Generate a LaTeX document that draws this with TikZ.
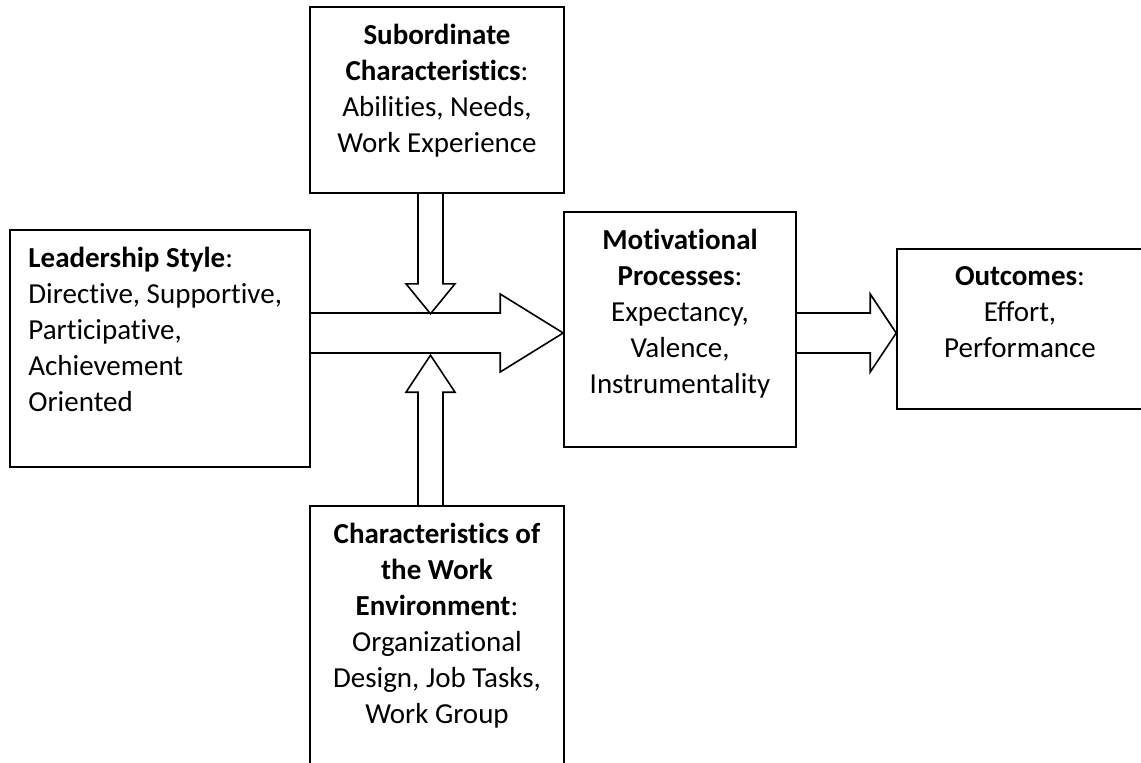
\documentclass[tikz,border=0pt]{standalone}
\usepackage{fontspec}
\setmainfont{Carlito}[Ligatures={NoCommon}]
\usepackage{tikz}
\usetikzlibrary{positioning}
\usetikzlibrary{calc}

\begin{document}
\begin{tikzpicture}[x=1pt, y=-1pt,
            boxnode/.style={rectangle, draw=black, line width=1.6pt, inner sep=0pt},
            txtnode/.style={font=\fontsize{29}{36}\selectfont, inner sep=0pt, align=center},
            blockarr/.style={draw=black, line width=1.6pt, line join=miter}
        ]
        \useasboundingbox (0,0) rectangle (1141,763);
        \node[boxnode, minimum width=254pt, minimum height=186pt] (sub) at (437,100) {};
        \node[boxnode, minimum width=300pt, minimum height=237pt] (lead) at (160,348.5) {};
        \node[boxnode, minimum width=232pt, minimum height=235pt] (mot) at (680,329.5) {};
        \node[boxnode, minimum width=246pt, minimum height=160pt] (out) at (1020,329) {};
        \node[boxnode, minimum width=254pt, minimum height=294pt] (env) at (437,653) {};

        \node[txtnode, below=18pt of sub.north] (subtxt) {\textbf{Subordinate}\\\textbf{Characteristics}:\\Abilities, Needs,\\Work Experience};
        \node[txtnode, align=left, below right=18pt and 19pt of lead.north west] (leadtxt) {\textbf{Leadership Style}:\\Directive, Supportive,\\Participative,\\Achievement\\Oriented};
        \node[txtnode, below=18pt of mot.north] (mottxt) {\textbf{Motivational}\\\textbf{Processes}:\\Expectancy,\\Valence,\\Instrumentality};
        \node[txtnode, below=18pt of out.north] (outtxt) {\textbf{Outcomes}:\\Effort,\\Performance};
        \node[txtnode, below=18pt of env.north] (envtxt) {\textbf{Characteristics of}\\\textbf{the Work}\\\textbf{Environment}:\\Organizational\\Design, Job Tasks,\\Work Group};

        \coordinate (tipmot) at ($(mot.west)+(0,3.5)$);
        \coordinate (tipdown) at ($(sub.south)+(-6.5,120)$);
        \coordinate (tipup) at ($(env.north)+(-6.5,-150)$);
        \coordinate (tipout) at ($(out.west)+(0,4)$);
        \draw[blockarr] ($(lead.east|-tipmot)+(0,-20)$) -- ($(tipmot)+(-63,-20)$) -- ($(tipmot)+(-63,-39)$) -- (tipmot)
            -- ($(tipmot)+(-63,39)$) -- ($(tipmot)+(-63,20)$) -- ($(lead.east|-tipmot)+(0,20)$);
        \draw[blockarr] ($(sub.south-|tipdown)+(-12.5,0)$) -- ($(tipdown)+(-12.5,-30)$) -- ($(tipdown)+(-24.5,-30)$) -- (tipdown)
            -- ($(tipdown)+(24.5,-30)$) -- ($(tipdown)+(12.5,-30)$) -- ($(sub.south-|tipdown)+(12.5,0)$);
        \draw[blockarr] ($(env.north-|tipup)+(-12.5,0)$) -- ($(tipup)+(-12.5,37)$) -- ($(tipup)+(-24.5,37)$) -- (tipup)
            -- ($(tipup)+(24.5,37)$) -- ($(tipup)+(12.5,37)$) -- ($(env.north-|tipup)+(12.5,0)$);
        \draw[blockarr] ($(mot.east|-tipout)+(0,-20)$) -- ($(tipout)+(-26,-20)$) -- ($(tipout)+(-26,-39)$) -- (tipout)
            -- ($(tipout)+(-26,39)$) -- ($(tipout)+(-26,20)$) -- ($(mot.east|-tipout)+(0,20)$);
\end{tikzpicture}
\end{document}
